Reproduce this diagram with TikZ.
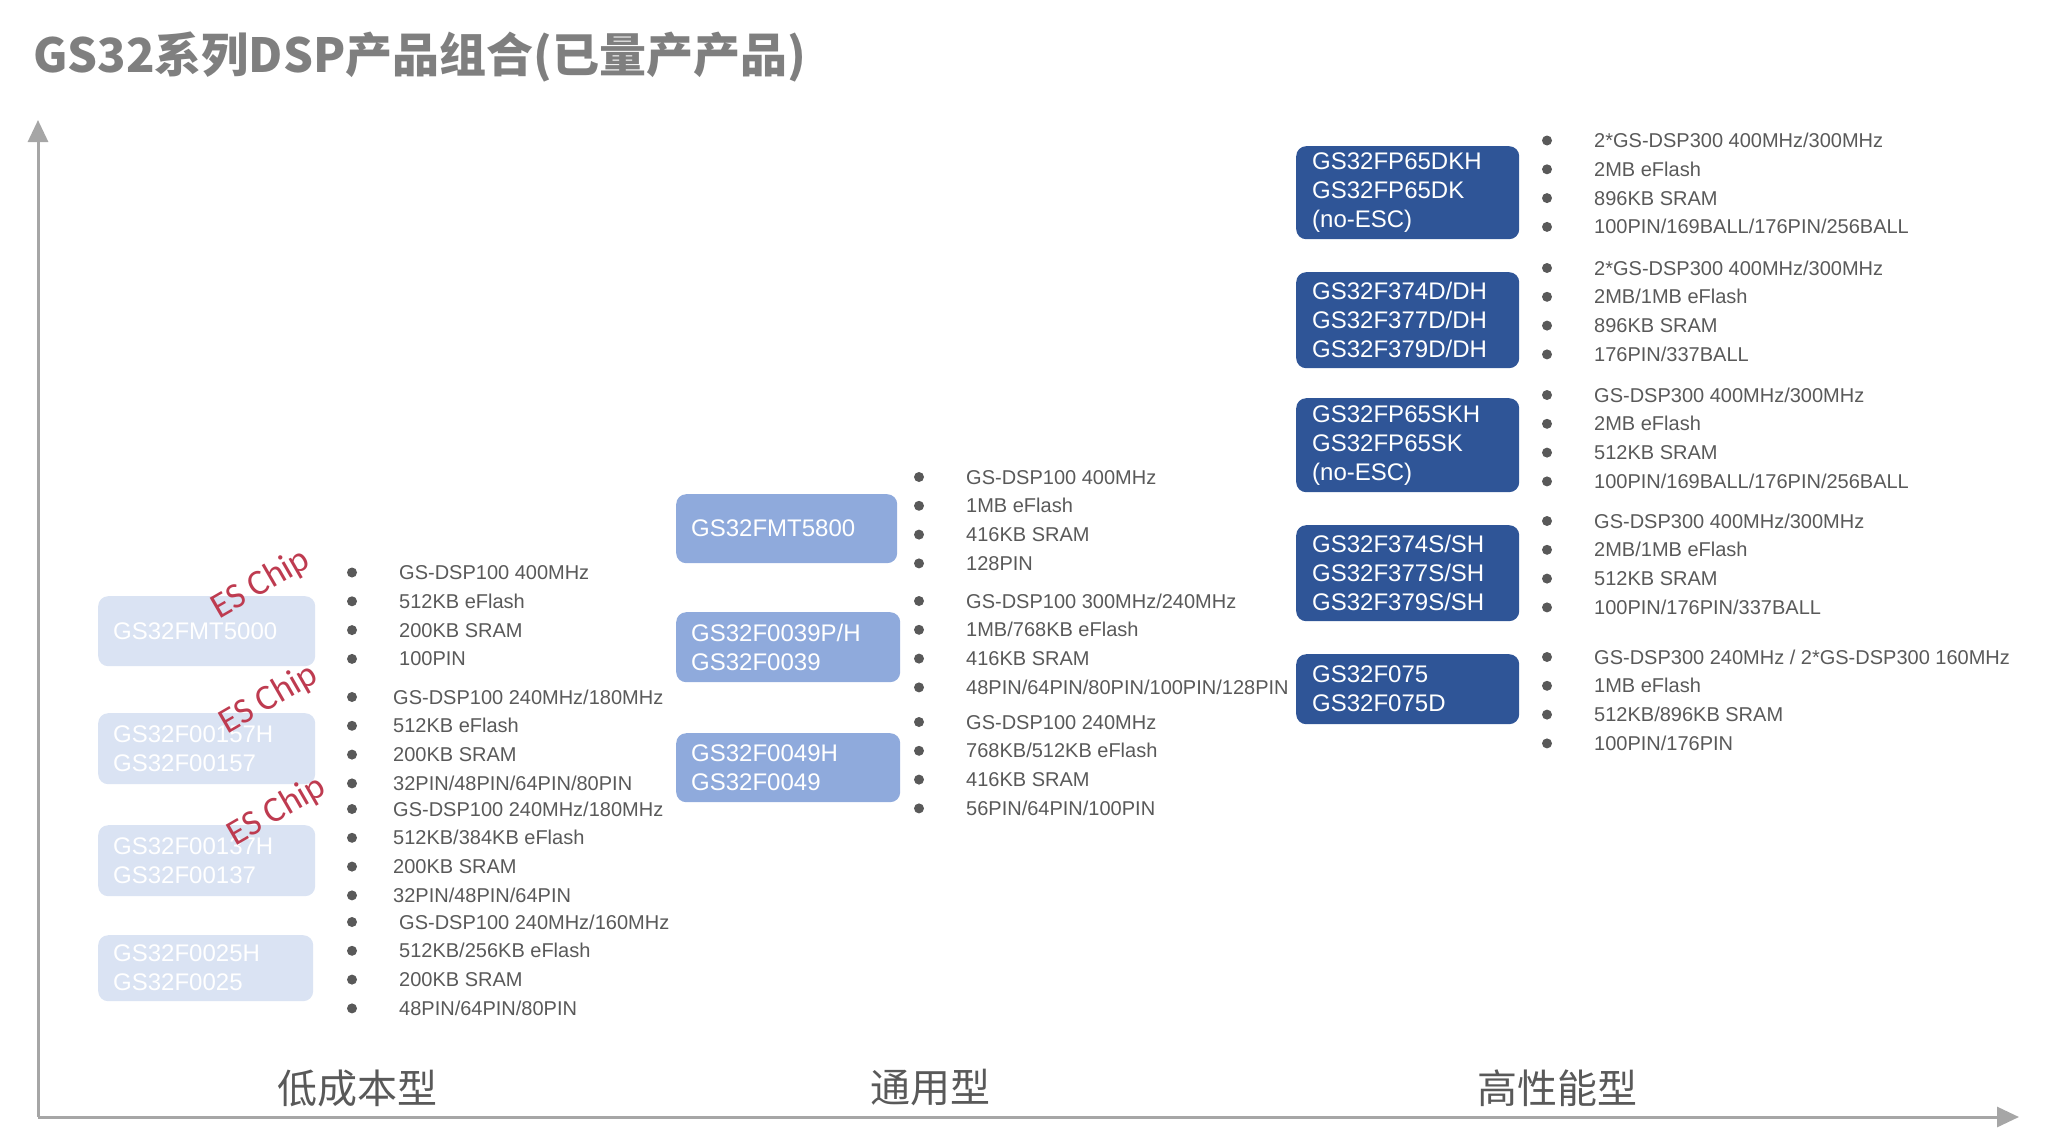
\documentclass[tikz,border=0pt]{standalone}
\usepackage{fontspec}
\setmainfont{Liberation Sans}
\newfontfamily\cjkfont{Noto Sans CJK SC}
\newfontfamily\esfont{Carlito}
\usetikzlibrary{arrows.meta}
\definecolor{boxlight}{HTML}{DAE3F3}
\definecolor{boxmid}{HTML}{8FAADC}
\definecolor{boxdark}{HTML}{2F5597}
\definecolor{specgray}{HTML}{595959}
\definecolor{titlegray}{HTML}{7F7F7F}
\definecolor{axisgray}{HTML}{A6A6A6}
\definecolor{esred}{HTML}{BE3B50}
\tikzset{
  prodbox/.style={rounded corners=10pt, text=white, align=left, inner xsep=15pt, inner ysep=0pt,
    font=\fontsize{24}{29}\selectfont, anchor=north west},
  lowbox/.style={prodbox, fill=boxlight},
  midbox/.style={prodbox, fill=boxmid},
  highbox/.style={prodbox, fill=boxdark, inner xsep=16pt},
  spec/.style={anchor=base west, inner sep=0pt, font=\fontsize{20}{24}\selectfont, text=specgray},
  bulletdot/.style={circle, fill=specgray, inner sep=0pt, minimum size=10pt},
  eschip/.style={font=\esfont\fontsize{36}{40}\selectfont, text=esred, inner sep=0pt, rotate=30},
  axisline/.style={draw=axisgray, line width=3pt, -{Triangle[length=22pt,width=20pt]}},
  axislabel/.style={font=\cjkfont\fontsize{40}{44}\selectfont, text=specgray, inner sep=0pt},
}
\newcommand{\speclist}[5]{%
  \foreach \itm [count=\k] in {#5} {%
    \pgfmathsetmacro{\yy}{#4+(\k-1)*28.8}%
    \node[bulletdot] (#1b\k) at (#2,\yy) {};
    \node[spec] (#1t\k) at (#3,\yy+7) {\itm};
  }%
}
\begin{document}
\begin{tikzpicture}[x=1pt,y=-1pt]
\useasboundingbox (0,0) rectangle (2059,1143);
% title
\node[anchor=west, inner sep=0pt, font=\cjkfont\bfseries\fontsize{47}{50}\selectfont, text=titlegray] (title) at (33,57) {GS32系列DSP产品组合(已量产产品)};
% axes
\coordinate (o) at (38,1117);
\coordinate (ytop) at (38,120);
\coordinate (xend) at (2019,1117);
\draw[axisline] (o) -- (ytop);
\draw[axisline] (o) -- (xend);
\node[axislabel] (cat1) at (357,1088) {低成本型};
\node[axislabel] (cat2) at (930,1088) {通用型};
\node[axislabel] (cat3) at (1557,1088) {高性能型};
% low-cost boxes
\node[lowbox, text width=187pt, minimum height=70pt] (l1) at (98,596) {GS32FMT5000};
\node[lowbox, text width=187pt, minimum height=71pt] (l2) at (98,713) {GS32F00157H\\GS32F00157};
\node[lowbox, text width=187pt, minimum height=71pt] (l3) at (98,825) {GS32F00137H\\GS32F00137};
\node[lowbox, text width=185pt, minimum height=66pt] (l4) at (98,935) {GS32F0025H\\GS32F0025};
\node[eschip] (es1) at (261,584) {ES Chip};
\node[eschip] (es2) at (269,699) {ES Chip};
\node[eschip] (es3) at (277,811) {ES Chip};
\speclist{la}{352}{399}{572.5}{GS-DSP100 400MHz, 512KB eFlash, 200KB SRAM, 100PIN}
\speclist{lb}{352}{393}{697}{GS-DSP100 240MHz/180MHz, 512KB eFlash, 200KB SRAM, 32PIN/48PIN/64PIN/80PIN}
\speclist{lc}{352}{393}{809}{GS-DSP100 240MHz/180MHz, 512KB/384KB eFlash, 200KB SRAM, 32PIN/48PIN/64PIN}
\speclist{ld}{352}{399}{922}{GS-DSP100 240MHz/160MHz, 512KB/256KB eFlash, 200KB SRAM, 48PIN/64PIN/80PIN}
% general-purpose boxes
\node[midbox, text width=191pt, minimum height=69pt] (m1) at (676,494) {GS32FMT5800};
\node[midbox, text width=194pt, minimum height=70pt] (m2) at (676,612) {GS32F0039P/H\\GS32F0039};
\node[midbox, text width=194pt, minimum height=69pt] (m3) at (676,733) {GS32F0049H\\GS32F0049};
\speclist{ma}{919}{966}{477}{GS-DSP100 400MHz, 1MB eFlash, 416KB SRAM, 128PIN}
\speclist{mb}{919}{966}{601}{GS-DSP100 300MHz/240MHz, 1MB/768KB eFlash, 416KB SRAM, 48PIN/64PIN/80PIN/100PIN/128PIN}
\speclist{mc}{919}{966}{722}{GS-DSP100 240MHz, 768KB/512KB eFlash, 416KB SRAM, 56PIN/64PIN/100PIN}
% high-performance boxes
\node[highbox, text width=191pt, minimum height=93pt] (h1) at (1296,146) {GS32FP65DKH\\GS32FP65DK\\(no-ESC)};
\node[highbox, text width=191pt, minimum height=96pt] (h2) at (1296,272) {GS32F374D/DH\\GS32F377D/DH\\GS32F379D/DH};
\node[highbox, text width=191pt, minimum height=94pt] (h3) at (1296,398) {GS32FP65SKH\\GS32FP65SK\\(no-ESC)};
\node[highbox, text width=191pt, minimum height=96pt] (h4) at (1296,525) {GS32F374S/SH\\GS32F377S/SH\\GS32F379S/SH};
\node[highbox, text width=191pt, minimum height=70pt] (h5) at (1296,654) {GS32F075\\GS32F075D};
\speclist{ha}{1547}{1594}{140.5}{2*GS-DSP300 400MHz/300MHz, 2MB eFlash, 896KB SRAM, 100PIN/169BALL/176PIN/256BALL}
\speclist{hb}{1547}{1594}{268}{2*GS-DSP300 400MHz/300MHz, 2MB/1MB eFlash, 896KB SRAM, 176PIN/337BALL}
\speclist{hc}{1547}{1594}{395}{GS-DSP300 400MHz/300MHz, 2MB eFlash, 512KB SRAM, 100PIN/169BALL/176PIN/256BALL}
\speclist{hd}{1547}{1594}{521}{GS-DSP300 400MHz/300MHz, 2MB/1MB eFlash, 512KB SRAM, 100PIN/176PIN/337BALL}
\speclist{he}{1547}{1594}{657}{GS-DSP300 240MHz / 2*GS-DSP300 160MHz, 1MB eFlash, 512KB/896KB SRAM, 100PIN/176PIN}
\end{tikzpicture}
\end{document}
